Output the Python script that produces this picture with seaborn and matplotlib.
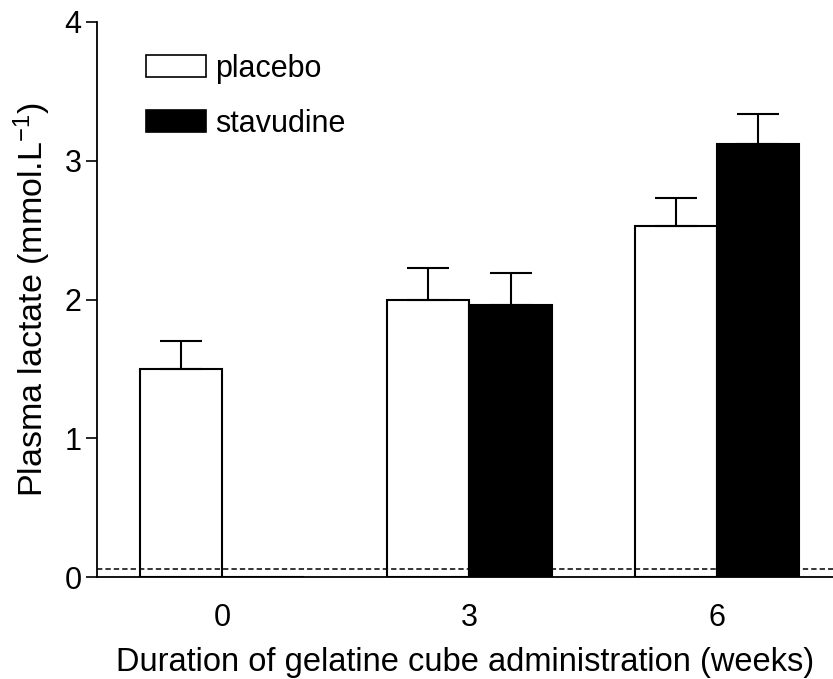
import matplotlib
matplotlib.use("Agg")
import matplotlib.pyplot as plt
from matplotlib.patches import Patch
import seaborn as sns
import pandas as pd

weeks = ["0", "3", "6"]
groups = ["placebo", "stavudine"]
placebo_mean = [1.50, 2.00, 2.53]
placebo_sem = [0.20, 0.23, 0.20]
stavudine_mean = [0.0, 1.96, 3.12]
stavudine_sem = [0.0, 0.23, 0.22]
baseline_level = 0.06

df = pd.DataFrame({
    "week": weeks * 2,
    "group": [groups[0]] * 3 + [groups[1]] * 3,
    "lactate": placebo_mean + stavudine_mean,
    "sem": placebo_sem + stavudine_sem,
})

sns.set_style("ticks")
plt.rcParams["font.family"] = ["Liberation Sans", "DejaVu Sans"]
plt.rcParams["mathtext.default"] = "regular"
for key in ("text.color", "axes.labelcolor", "xtick.color", "ytick.color",
            "axes.edgecolor"):
    plt.rcParams[key] = "black"

fig = plt.figure(figsize=(8.33, 6.79), dpi=100)
ax = fig.add_axes([0.1164, 0.1502, 0.8836, 0.8174])

sns.barplot(data=df, x="week", y="lactate", hue="group", order=weeks,
            hue_order=groups, palette={"placebo": "white", "stavudine": "black"},
            edgecolor="black", linewidth=1.5, width=0.665, errorbar=None,
            legend=False, ax=ax, zorder=3)

# one-sided SEM bars on top of each bar
for cont, g in zip(ax.containers, groups):
    sub = df[df["group"] == g].set_index("week").loc[weeks]
    for rect, (m, s) in zip(cont, zip(sub["lactate"], sub["sem"])):
        if s <= 0:
            continue
        cx = rect.get_x() + rect.get_width() / 2
        ax.errorbar(cx, m, yerr=[[0], [s]], fmt="none", ecolor="black",
                    elinewidth=1.5, capsize=15, capthick=1.5, zorder=4)

ax.axhline(baseline_level, color="black", lw=1.1, ls=(0, (3.5, 2)), zorder=5)

ax.set_ylim(0, 4)
ax.set_xlim(-0.506, 2.47)
ax.set_yticks([0, 1, 2, 3, 4])
ax.tick_params(axis="y", length=8, width=1.2, labelsize=22, pad=3)
ax.tick_params(axis="x", length=0, labelsize=22, pad=19)
for side in ("top", "right"):
    ax.spines[side].set_visible(False)
for side in ("left", "bottom"):
    ax.spines[side].set_linewidth(1.3)

ax.set_xlabel("Duration of gelatine cube administration (weeks)", fontsize=23.5, labelpad=10)
ax.set_ylabel("Plasma lactate (mmol.L$^{-1}$)", fontsize=24.5, labelpad=8)

handles = [Patch(facecolor="white", edgecolor="black", linewidth=1.2),
           Patch(facecolor="black", edgecolor="black", linewidth=1.2)]
ax.legend(handles, groups, loc="upper left", bbox_to_anchor=(0.05, 0.965),
          frameon=False, fontsize=22, handlelength=1.96, handleheight=0.75,
          handletextpad=0.3, labelspacing=0.82, borderaxespad=0)

fig.savefig("out.png", dpi=100)
